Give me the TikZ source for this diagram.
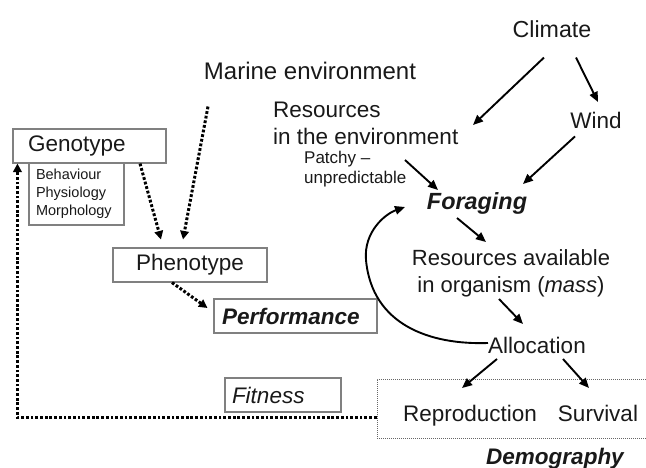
\documentclass[tikz,border=0pt]{standalone}
\usepackage{fontspec}
\setmainfont{Liberation Sans}
\usetikzlibrary{arrows.meta}
\tikzset{
  txt/.style={inner sep=0pt, text=black!90, font=\fontsize{22.5}{27}\selectfont},
  box/.style={draw=black!50, line width=1.1pt, inner ysep=0pt, minimum height=34pt,
              text=black!90, font=\fontsize{22.5}{27}\selectfont},
  arr/.style={line width=1.9pt, -{Triangle[length=10pt,width=8.5pt]}},
  dotarr/.style={line width=3pt, dash pattern=on 2.8pt off 1.9pt,
                 -{Triangle[length=8.5pt,width=8.5pt]}},
  demoframe/.style={draw=black!60, line width=0.9pt, dash pattern=on 1pt off 1pt}
}
\begin{document}
\begin{tikzpicture}[x=1pt,y=-1pt]
\useasboundingbox (0,0) rectangle (646,468);

% text nodes
\node[txt, anchor=north, font=\fontsize{23.2}{27}\selectfont] (climate) at (552,20.1) {Climate};
\node[txt, anchor=north] (wind) at (596,111.5) {Wind};
\node[txt, anchor=north, font=\fontsize{24}{28}\selectfont] (marine) at (310,61.5) {Marine environment};
\node[txt, anchor=north west, align=left] (resenv) at (273,101.5) {Resources\\in the environment};
\node[txt, anchor=north west, align=left, font=\fontsize{17}{19.5}\selectfont] (patchy) at (304,151) {Patchy –\\unpredictable};
\node[txt, anchor=north, font=\fontsize{23.4}{27}\selectfont\bfseries\itshape] (foraging) at (477,192.5) {Foraging};
\node[txt, anchor=north, align=center, font=\fontsize{22}{26.5}\selectfont] (resorg) at (511,249.5) {Resources available\\in organism (\textit{mass})};
\node[txt, anchor=north] (alloc) at (537,336.5) {Allocation};
\node[txt, anchor=north] (repro) at (470,404.5) {Reproduction};
\node[txt, anchor=north] (surv) at (598,404.5) {Survival};
\node[txt, anchor=north, font=\fontsize{22.5}{27}\selectfont\bfseries\itshape] (demography) at (555,447.5) {Demography};

% boxes
\node[box, text width=123pt, inner xsep=15pt, align=left] (geno) at (89.5,146) {Genotype};
\node[box, text width=81pt, inner xsep=7pt, align=left, minimum height=62pt,
      font=\fontsize{14.5}{18}\selectfont] (traits) at (76.5,194) {Behaviour\\Physiology\\Morphology};
\node[box, minimum width=154pt] (pheno) at (190,265) {Phenotype};
\node[box, text width=147pt, inner xsep=8pt, align=left,
      font=\fontsize{22.5}{27}\selectfont\bfseries\itshape] (perf) at (295.5,316) {Performance};
\node[box, text width=102pt, inner xsep=7pt, align=left,
      font=\fontsize{22.5}{27}\selectfont\itshape] (fitness) at (283,395) {Fitness};
\node[demoframe, minimum width=273pt, minimum height=59pt, inner sep=0pt] (demo) at (513.5,408.5) {};

% solid arrows
\draw[arr] ([shift={(-8,20)}]climate.south) -- ([shift={(200,23.5)}]resenv.north west);
\draw[arr] ([shift={(24,20)}]climate.south) -- ([shift={(2,-9.5)}]wind.north);
\draw[arr] ([shift={(-21,8)}]wind.south) -- ([shift={(46,-8.5)}]foraging.north);
\draw[arr] ([shift={(101,9)}]patchy.north west) -- ([shift={(-39,-2.5)}]foraging.north);
\draw[arr] ([shift={(-20,25.5)}]foraging.north) -- ([shift={(-25,-7.5)}]resorg.north);
\draw[arr] ([shift={(-12,49.5)}]resorg.north) -- ([shift={(-14,-12.5)}]alloc.north);
\draw[arr] ([shift={(-40,22.5)}]alloc.north) -- ([shift={(-8,-16.5)}]repro.north);
\draw[arr] ([shift={(26,22.5)}]alloc.north) -- ([shift={(-9,-16.5)}]surv.north);
\draw[arr] ([shift={(-49,6.5)}]alloc.north) .. controls (430,345) and (372,325) .. (366,260)
           .. controls (363.5,232) and (385,214) .. ([shift={(-72,14.5)}]foraging.north);

% dotted arrows
\draw[dotarr] ([shift={(50.5,0)}]geno.south) -- ([shift={(-29,-8)}]pheno.north);
\draw[dotarr] ([shift={(-102,27)}]marine.south) -- ([shift={(-7,-8)}]pheno.north);
\draw[dotarr] ([shift={(-18,0)}]pheno.south) -- ([shift={(-6,-8)}]perf.west);
\draw[dotarr] ([shift={(0,-21)}]demo.south west) -| ([shift={(5,0)}]geno.south west);
\end{tikzpicture}
\end{document}
